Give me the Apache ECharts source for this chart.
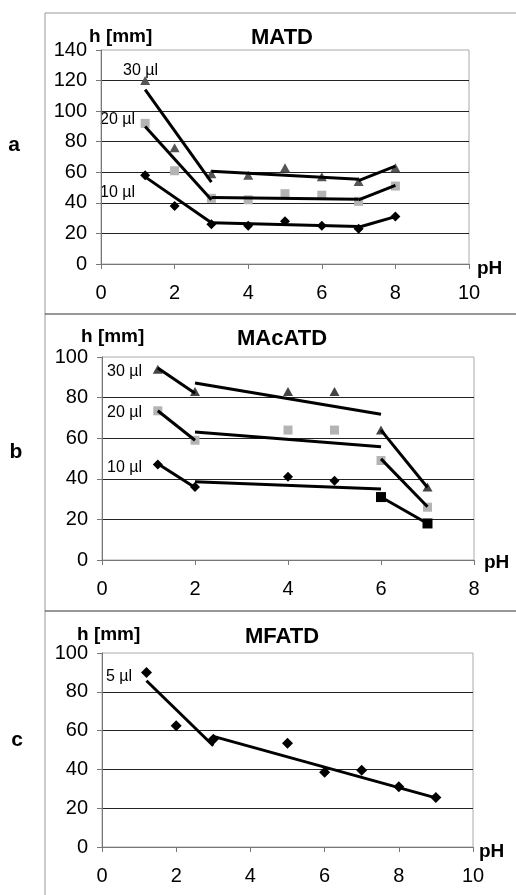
<!DOCTYPE html>
<html>
<head>
<meta charset="utf-8">
<script src="https://cdn.jsdelivr.net/npm/echarts@6/dist/echarts.min.js"></script>
<style>
  html, body { margin: 0; padding: 0; background: #fff; }
  #main { width: 516px; height: 895px; }
</style>
</head>
<body>
<div id="main"></div>
<script>
// panel a - MATD
const phA = [1.2, 2, 3, 4, 5, 6, 7, 8];
const a10 = [58, 38, 26, 25, 28, 25, 23, 31];
const a20 = [92, 61, 43, 42, 46, 45, 41, 51];
const a30 = [120, 76, 59, 58, 63, 57, 54, 63];
const a10Fit = [[[1.2, 57], [3, 27]], [[3, 27], [7, 24.5]], [[7, 24], [8, 31]]];
const a20Fit = [[[1.2, 90], [3, 42]], [[3, 43.5], [7, 42.3]], [[7, 42], [8, 51.5]]];
const a30Fit = [[[1.2, 114], [3, 53.5]], [[3, 60.6], [7, 55.5]], [[7, 54.5], [8, 64]]];

// panel b - MAcATD
const phB = [1.2, 2, 4, 5, 6, 7];
const b10 = [47, 36, 41, 39, 31, 18];
const b20 = [73.5, 59, 64, 64, 49, 26];
const b30 = [94, 83, 83, 83, 64, 36];
const b10Fit = [[[1.2, 47.4], [2, 35.7]], [[2, 38.5], [6, 35]], [[6, 31], [7, 18]]];
const b20Fit = [[[1.2, 73.5], [2, 59]], [[2, 63], [6, 55.8]], [[6, 49.8], [7, 26.2]]];
const b30Fit = [[[1.2, 94.6], [2, 82.2]], [[2, 87.2], [6, 71.8]], [[6, 64], [7, 35.7]]];

// panel c - MFATD
const phC = [1.2, 2, 3, 5, 6, 7, 8, 9];
const c5 = [90, 62.5, 55.5, 53.5, 38.5, 39.5, 31, 25.5];
const c5Fit = [[[1.2, 85.7], [3, 52.2]], [[3, 57], [9, 25.3]]];

// axis ranges
const xMax = [10, 8, 10];
const yMax = [140, 100, 100];

const FONT = "'Liberation Sans', Arial, sans-serif";
let chart = echarts.init(document.getElementById('main'), null, { renderer: 'canvas' });

function pts(xs, ys) {
    return xs.map((x, i) => [x, ys[i]]);
}

function axisX(idx) {
    return {
        type: 'value', gridIndex: idx, min: 0, max: xMax[idx], interval: 2,
        axisLine: { show: true, onZero: false, lineStyle: { color: '#777', width: 1 } },
        axisTick: { show: true, length: 5, lineStyle: { color: '#777' } },
        axisLabel: { margin: 19, color: '#000', fontSize: 20, fontFamily: FONT, showMaxLabel: true, showMinLabel: true },
        splitLine: { show: false }
    };
}

function axisY(idx) {
    return {
        type: 'value', gridIndex: idx, min: 0, max: yMax[idx], interval: 20,
        axisLine: { show: true, lineStyle: { color: '#777', width: 1 } },
        axisTick: { show: true, length: 5, lineStyle: { color: '#777' } },
        axisLabel: { margin: 14, color: '#000', fontSize: 20, fontFamily: FONT },
        splitLine: { show: true, showMaxLine: false, showMinLine: false, lineStyle: { color: '#222', width: 1 } }
    };
}

function marks(idx, data, symbol, color, size) {
    return {
        type: 'scatter', xAxisIndex: idx, yAxisIndex: idx, data: data,
        symbol: symbol, symbolSize: size, itemStyle: { color: color, opacity: 1 },
        silent: true, z: 3
    };
}

function fits(idx, segs) {
    return segs.map(s => ({
        type: 'line', xAxisIndex: idx, yAxisIndex: idx, data: s,
        showSymbol: false, symbol: 'none', silent: true, z: 4,
        lineStyle: { color: '#000', width: 3 }
    }));
}

function txt(x, y, text, size, bold, align) {
    return {
        type: 'text', x: x, y: y, silent: true,
        style: {
            text: text, fill: '#000', fontSize: size, fontFamily: FONT,
            fontWeight: bold ? 'bold' : 'normal', textAlign: align || 'left', textVerticalAlign: 'middle'
        }
    };
}

function hline(x1, x2, y, color) {
    return { type: 'line', silent: true, shape: { x1: x1, y1: y, x2: x2, y2: y }, style: { stroke: color, lineWidth: 1 } };
}

const diamondPath = 'path://M5,0 L10,5 L5,10 L0,5 Z';
const trianglePath = 'path://M5,0 L10,9 L0,9 Z';

let series = [];
// a
series.push(marks(0, pts(phA, a30), trianglePath, '#555', [10, 9]));
series.push(marks(0, pts(phA, a20), 'rect', '#b4b4b4', 9));
series.push(marks(0, pts(phA, a10), diamondPath, '#000', 10));
series = series.concat(fits(0, a30Fit), fits(0, a20Fit), fits(0, a10Fit));
// b
series.push(marks(1, pts(phB, b30), trianglePath, '#444', [10, 9]));
series.push(marks(1, pts(phB, b20), 'rect', '#b4b4b4', 9));
series.push({
    type: 'scatter', xAxisIndex: 1, yAxisIndex: 1, data: pts(phB, b10), silent: true, z: 3,
    symbol: (v, p) => p.dataIndex >= 4 ? 'rect' : diamondPath,
    symbolSize: 10,
    itemStyle: { color: '#000', opacity: 1 }
});
series = series.concat(fits(1, b30Fit), fits(1, b20Fit), fits(1, b10Fit));
// c
series.push(marks(2, pts(phC, c5), diamondPath, '#000', 11));
series = series.concat(fits(2, c5Fit));

let option = {
    animation: false,
    backgroundColor: '#fff',
    grid: [
        { left: 101, top: 50, width: 368, height: 214, show: true, borderColor: '#aaa', borderWidth: 1, containLabel: false, outerBoundsMode: 'none' },
        { left: 102, top: 357, width: 372, height: 203, show: true, borderColor: '#aaa', borderWidth: 1, containLabel: false, outerBoundsMode: 'none' },
        { left: 102, top: 653, width: 371, height: 194, show: true, borderColor: '#aaa', borderWidth: 1, containLabel: false, outerBoundsMode: 'none' }
    ],
    xAxis: [axisX(0), axisX(1), axisX(2)],
    yAxis: [axisY(0), axisY(1), axisY(2)],
    series: series,
    graphic: [
        // panel frames
        { type: 'line', silent: true, shape: { x1: 45, y1: 13, x2: 45, y2: 895 }, style: { stroke: '#999', lineWidth: 1 } },
        hline(45, 516, 13, '#999'),
        hline(45, 516, 314, '#333'),
        hline(45, 516, 611, '#333'),
        // panel letters
        txt(14, 145, 'a', 21, true, 'center'),
        txt(16, 452, 'b', 21, true, 'center'),
        txt(17, 740, 'c', 21, true, 'center'),
        // titles
        txt(282, 38, 'MATD', 22, true, 'center'),
        txt(282, 339, 'MAcATD', 22, true, 'center'),
        txt(282, 637, 'MFATD', 22, true, 'center'),
        // axis names
        txt(89, 37, 'h [mm]', 19, true),
        txt(81, 337, 'h [mm]', 19, true),
        txt(77, 635, 'h [mm]', 19, true),
        txt(477, 269, 'pH', 19, true),
        txt(484, 563, 'pH', 19, true),
        txt(479, 852, 'pH', 19, true),
        // volume labels
        txt(123, 71, '30 µl', 16, false),
        txt(100, 120, '20 µl', 16, false),
        txt(100, 193, '10 µl', 16, false),
        txt(107, 372, '30 µl', 16, false),
        txt(107, 413, '20 µl', 16, false),
        txt(107, 468, '10 µl', 16, false),
        txt(106, 677, '5 µl', 16, false)
    ]
};

chart.setOption(option);
</script>
</body>
</html>
